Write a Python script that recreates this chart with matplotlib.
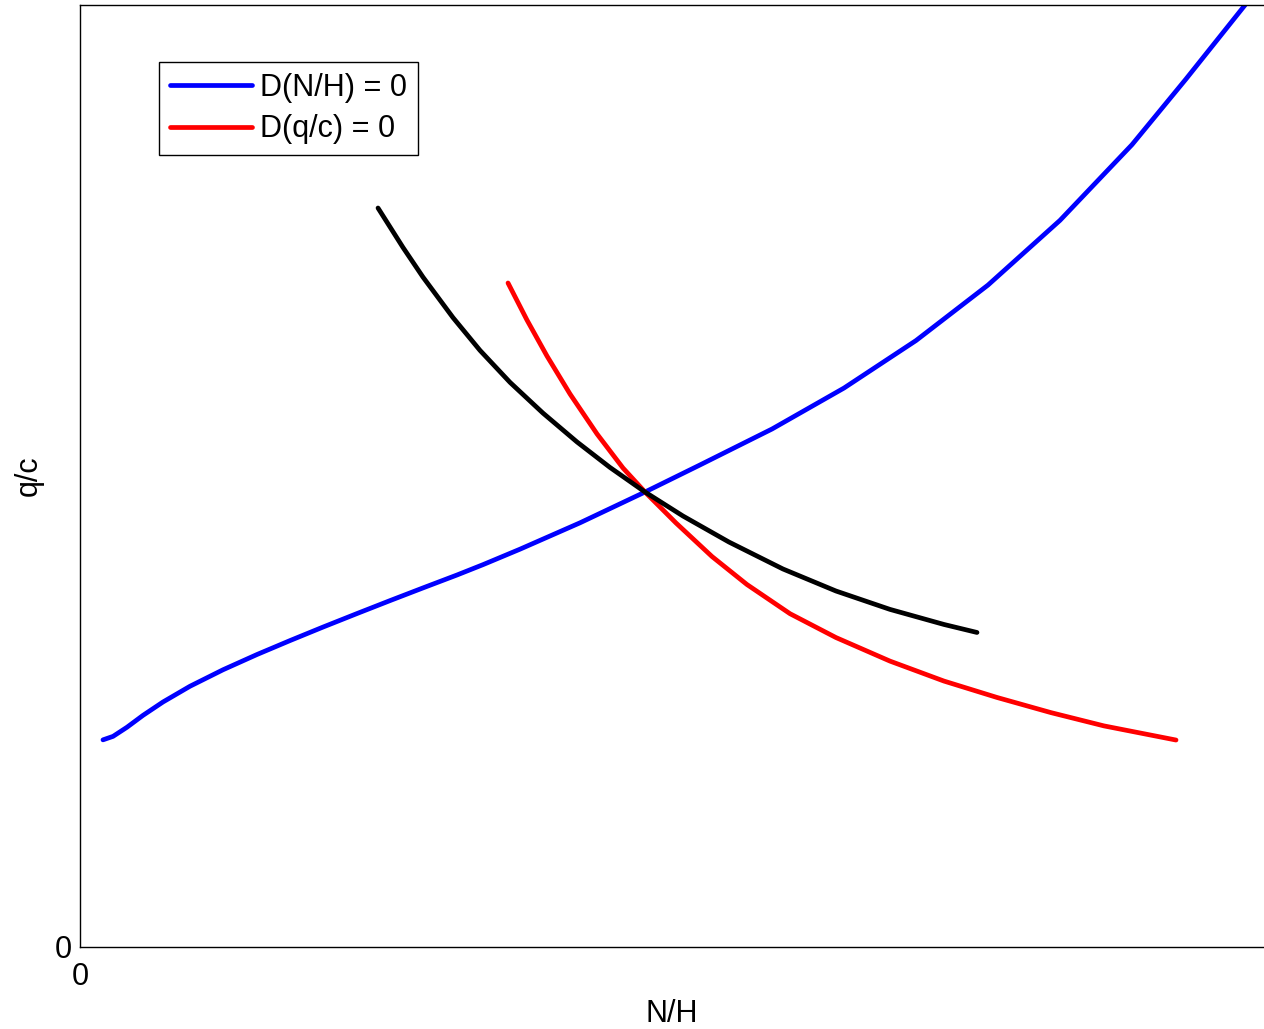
import matplotlib
matplotlib.use("Agg")
import matplotlib.pyplot as plt

plt.rcParams['font.family'] = ['Liberation Sans', 'DejaVu Sans']

# D(N/H) = 0 curve (blue)
blue_x = [0.194, 0.279, 0.397, 0.532, 0.701, 0.929, 1.208, 1.495, 1.774, 2.052, 2.340,
          2.618, 2.897, 3.184, 3.404, 3.716, 4.223, 4.772, 5.236, 5.845, 6.453, 7.061,
          7.669, 8.277, 8.885, 9.341, 9.840]
blue_y = [2.199, 2.236, 2.333, 2.459, 2.601, 2.768, 2.943, 3.105, 3.253, 3.396, 3.540,
          3.677, 3.812, 3.949, 4.059, 4.223, 4.503, 4.830, 5.117, 5.499, 5.934, 6.438,
          7.027, 7.714, 8.517, 9.214, 10.0]

# saddle path (black)
black_x = [2.517, 2.728, 2.897, 3.150, 3.378, 3.632, 3.910, 4.198, 4.476, 4.772, 5.093,
           5.481, 5.937, 6.385, 6.841, 7.297, 7.576]
black_y = [7.845, 7.426, 7.111, 6.682, 6.334, 5.994, 5.668, 5.361, 5.091, 4.830, 4.575,
           4.299, 4.013, 3.779, 3.584, 3.424, 3.339]

# D(q/c) = 0 curve (red)
red_x = [3.615, 3.775, 3.944, 4.139, 4.367, 4.586, 4.772, 5.034, 5.338, 5.633, 5.997,
         6.385, 6.841, 7.297, 7.745, 8.201, 8.649, 9.257]
red_y = [7.049, 6.656, 6.274, 5.870, 5.446, 5.085, 4.830, 4.501, 4.145, 3.848, 3.538,
         3.285, 3.035, 2.823, 2.649, 2.488, 2.347, 2.197]

x_ticks = [0]
y_ticks = [0]

W, H = 1264, 1029
fig = plt.figure(figsize=(W / 100, H / 100), dpi=100)
ax = fig.add_axes([80 / W, (H - 947) / H, 1184 / W, 942 / H])

lw = 3.4
ax.plot(blue_x, blue_y, color='#0000ff', lw=lw, label='D(N/H) = 0',
        solid_capstyle='round', solid_joinstyle='round')
ax.plot(red_x, red_y, color='#ff0000', lw=lw, label='D(q/c) = 0',
        solid_capstyle='round', solid_joinstyle='round')
ax.plot(black_x, black_y, color='black', lw=lw,
        solid_capstyle='round', solid_joinstyle='round')

ax.set_xlim(0, 10)
ax.set_ylim(0, 10)
ax.set_xticks(x_ticks)
ax.set_yticks(y_ticks)
ax.tick_params(length=0, labelsize=22)
ax.tick_params(axis='x', pad=11)
ax.tick_params(axis='y', pad=6)
ax.spines['right'].set_visible(False)
for s in ['left', 'bottom', 'top']:
    ax.spines[s].set_linewidth(1.0)
ax.set_xlabel('N/H', fontsize=22, labelpad=5)
ax.set_ylabel('q/c', fontsize=22, labelpad=8)

leg = ax.legend(loc='upper left', bbox_to_anchor=((159 - 80) / 1184, (947 - 62) / 942),
                borderaxespad=0, fontsize=22, handlelength=2.7, fancybox=False,
                edgecolor='black', framealpha=1, borderpad=0.35, labelspacing=0.38,
                handletextpad=0.25)
leg.get_frame().set_linewidth(1.0)

fig.savefig('out.png', dpi=100)
